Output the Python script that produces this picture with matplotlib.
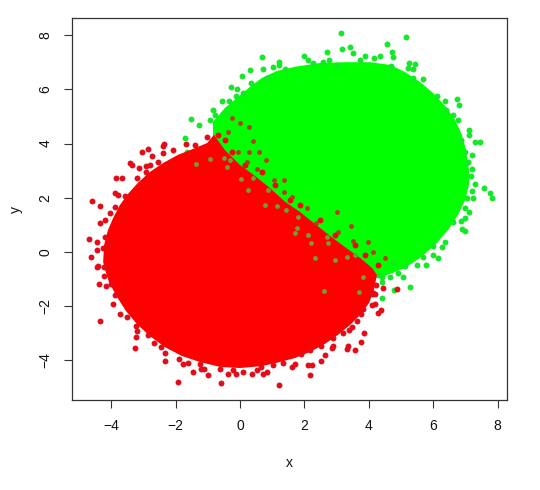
import matplotlib
matplotlib.use("Agg")
import matplotlib.pyplot as plt

plt.rcParams['font.family'] = ['Liberation Sans', 'DejaVu Sans']

# Saturated cores of the two clouds
green_core_x = [-0.84,-0.47,-0.06,0.31,0.68,1.15,1.71,2.48,3.26,4.04,4.66,5.12,5.59,5.99,6.37,6.68,6.89,7.02,7.11,7.11,6.99,6.77,6.46,6.06,5.59,5.12,4.66,4.29,1.86,-0.84]
green_core_y = [4.80,5.31,5.72,6.09,6.42,6.68,6.83,6.97,7.00,7.00,6.90,6.64,6.27,5.87,5.39,4.87,4.32,3.76,3.03,2.47,1.92,1.37,0.81,0.26,-0.22,-0.59,-0.81,-0.96,0.07,2.66]
red_core_x = [-4.25,-4.22,-4.10,-3.94,-3.73,-3.48,-3.17,-2.80,-2.39,-1.93,-1.46,-1.02,-0.81,-0.47,0,0.47,0.93,1.40,1.86,2.33,2.80,3.26,3.73,4.10,4.25,4.16,4.01,3.73,3.42,3.04,2.64,2.17,1.71,1.24,0.68,0,-0.62,-1.24,-1.80,-2.33,-2.80,-3.20,-3.54,-3.82,-4.07,-4.19]
red_core_y = [-0.37,0.26,0.81,1.25,1.73,2.14,2.55,2.95,3.28,3.58,3.80,4.02,4.32,3.76,3.21,2.80,2.36,1.85,1.48,1.03,0.59,0.18,-0.22,-0.59,-0.85,-1.40,-1.88,-2.32,-2.69,-3.06,-3.39,-3.69,-3.91,-4.06,-4.21,-4.28,-4.24,-4.06,-3.84,-3.51,-3.10,-2.66,-2.18,-1.66,-1.11,-0.66]

# Individually visible points
red_x = [-4.60,-4.35,-4.69,-4.44,-4.63,-4.44,-3.85,-3.66,-3.42,-3.35,-3.14,-3.04,-2.86,-2.73,-2.92,-3.20,-2.92,-2.36,-2.39,-1.68,-3.88,-3.79,-2.08,-2.39,-4.35,-4.19,-4.04,-3.88,-3.57,-4.19,-4.25,-4.44,-4.04,-2.80,-2.55,-1.40,-1.02,
         -4.41,-4.22,-4.22,-4.38,-4.16,-4.01,-3.88,-3.94,-4.35,-3.73,-3.51,-3.23,-3.20,-3.23,-3.26,-2.86,-2.67,-2.45,-2.33,-2.33,-1.93,-1.89,-1.77,-1.46,-1.21,-1.12,-0.99,-0.59,-0.37,-0.12,-0.22,0.09,-1.61,-1.24,-0.62,
         0.37,0.53,0.65,0.71,0.84,1.21,1.61,1.71,2.17,2.11,2.24,2.52,2.64,2.52,2.89,2.86,3.32,3.35,3.57,3.76,3.85,3.63,3.48,3.39,3.20,3.76,4.29,4.38,4.10,4.19,4.10,4.19,4.44,4.88,4.22,1.89,1.34,1.02,2.17,2.89,3.82,4.13]
red_y = [1.88,1.70,0.48,0.37,-0.18,0.07,2.73,2.73,3.28,3.21,3.10,3.69,3.80,3.54,2.95,2.73,3.17,3.99,3.91,3.99,2.18,2.10,3.76,3.65,1.07,1.18,1.44,1.66,2.07,0.55,0.15,-0.55,0.33,3.21,3.32,3.95,4.24,
         -0.52,-0.55,-0.89,-1.18,-1.25,-1.18,-1.59,-1.92,-2.55,-2.29,-2.40,-2.73,-2.92,-3.14,-3.54,-3.06,-3.36,-3.51,-3.73,-4.02,-4.80,-3.95,-4.13,-4.43,-4.32,-4.32,-4.54,-4.83,-4.50,-4.50,-4.35,-4.43,-4.10,-4.13,-4.32,
         -4.50,-4.35,-4.24,-4.50,-4.43,-4.91,-4.24,-4.13,-4.54,-4.17,-4.17,-4.02,-3.80,-3.47,-3.47,-3.54,-3.58,-3.47,-3.62,-3.32,-2.99,-2.55,-2.77,-2.88,-2.99,-2.29,-2.25,-2.14,-1.96,-1.92,-1.55,-1.55,-1.33,-1.37,-1.22,-3.76,-4.10,-4.17,-3.62,-3.17,-2.10,-1.51]

green_x = [3.14,2.70,3.17,3.42,3.51,1.99,0.68,1.21,1.02,0.71,0.31,0.06,-0.28,-0.09,0.34,0.09,-0.12,-0.56,-0.34,-0.84,-1.52,-1.27,-0.93,-0.78,-1.71,-0.40,1.21,0.84,1.40,2.11,2.58,2.76,2.27,3.01,
           5.16,4.57,4.72,4.75,4.16,4.35,3.88,3.73,5.25,5.43,5.22,5.37,5.37,5.68,4.69,6.12,6.37,6.74,6.80,6.40,6.61,6.77,7.11,7.11,6.86,7.30,7.45,7.20,6.99,
           7.08,7.20,7.17,7.30,7.58,7.76,7.83,7.20,7.24,7.05,7.11,6.99,6.99,6.86,6.61,6.89,6.99,6.37,6.27,5.99,5.99,6.15,5.78,5.50,5.68,5.06,4.91,4.66,4.41,4.41,5.28,4.78,5.12,4.75,4.29,4.41,-1.65]
green_y = [8.08,7.38,7.49,7.56,7.34,7.23,7.20,7.01,6.83,6.75,6.72,6.49,6.09,6.01,6.24,5.87,5.76,5.57,5.57,5.24,4.91,4.69,4.87,5.06,4.21,5.13,6.90,6.42,6.75,7.08,7.01,7.08,6.97,6.90,
           7.93,7.68,7.38,7.20,7.16,7.23,7.23,7.08,6.97,6.94,6.79,6.75,6.42,6.38,6.86,5.76,5.57,5.65,5.42,5.24,5.06,4.87,4.50,4.32,4.13,4.06,4.06,3.58,3.69,
           3.32,3.06,2.80,2.51,2.36,2.18,1.99,2.25,1.99,1.99,1.48,1.62,1.25,1.14,1.11,0.85,0.77,0.37,0.18,0.22,-0.11,-0.22,-0.48,-0.48,-0.18,-0.92,-0.77,-0.92,-0.92,-1.11,-1.29,-1.40,-0.52,-0.41,-0.85,-1.70,3.69]

# Red points poking into the green along the overlap edge
overlap_red_x = [-0.68,-0.47,-0.25,0.16,0.68,1.09,1.55,1.86,2.48,2.95,3.57,3.88,4.29]
overlap_red_y = [4.32,4.13,3.69,3.21,2.95,2.47,1.92,1.73,1.18,0.63,0.26,-0.11,-0.48]

# Points of one cloud showing through the other along the overlap
red_on_green_x = [0.28,-0.06,0.28,0.59,0.81,1.37,1.37,1.61,2.08,3.01,3.45,3.51,3.98,4.13,3.04,2.36,1.06,0.53,0.22,-0.37,0.40,0,4.50,-0.25]
red_on_green_y = [4.61,3.69,3.69,3.69,3.39,2.66,2.21,2.03,1.62,1.48,0.96,0.41,0.37,0,0.74,1.07,2.66,3.06,3.32,4.43,4.10,4.76,-0.22,4.94]
green_on_red_x = [0.03,0.40,0.25,0.78,0.87,1.43,1.77,1.71,2.11,2.20,2.33,2.95,2.61,-0.93,-0.50,-0.31,3.70,2.70,3.57,3.32,3.82,-0.40,1.15,2.73,1.80,-1.37]
green_on_red_y = [2.69,2.73,2.29,1.73,2.29,1.55,0.89,0.70,0.63,0.33,-0.22,-0.30,-1.44,3.43,3.47,3.39,-1.48,0.55,-0.11,-0.18,-0.92,3.14,1.70,0.33,1.29,3.25]

x_ticks = [-4, -2, 0, 2, 4, 6, 8]
y_ticks = [-4, -2, 0, 2, 4, 6, 8]

fig = plt.figure(figsize=(5.4, 4.9), dpi=100)
ax = fig.add_axes([72/540, 1-400/490, 435/540, 382/490])
ax.set_xlim(-5.217, 8.29)
ax.set_ylim(-5.46, 8.63)

msize = 18
ax.fill(green_core_x, green_core_y, color='#00ff00', lw=0, zorder=2)
ax.scatter(green_x, green_y, s=msize, color='#14e828', lw=0, zorder=3)
ax.fill(red_core_x, red_core_y, color='#ff0000', lw=0, zorder=4)
ax.scatter(red_x, red_y, s=msize, color='#e40c18', lw=0, zorder=5)
ax.scatter(overlap_red_x, overlap_red_y, s=msize, color='#ff0000', lw=0, zorder=5)
ax.scatter(red_on_green_x, red_on_green_y, s=12, color='#b83a10', lw=0, zorder=6)
ax.scatter(green_on_red_x, green_on_red_y, s=12, color='#70a030', lw=0, zorder=6)

ax.set_xticks(x_ticks)
ax.set_yticks(y_ticks)
ax.tick_params(length=6, width=0.8, color='#333333', labelsize=10, labelcolor='#111111', pad=8)
for lab in ax.get_yticklabels():
    lab.set_rotation(90)
    lab.set_va('center')
for s in ax.spines.values():
    s.set_linewidth(0.9)
    s.set_color('#333333')
ax.set_xlabel('x', fontsize=10, color='#111111', labelpad=16)
ax.set_ylabel('y', fontsize=10, color='#111111', labelpad=11)

fig.savefig('out.png', dpi=100)
